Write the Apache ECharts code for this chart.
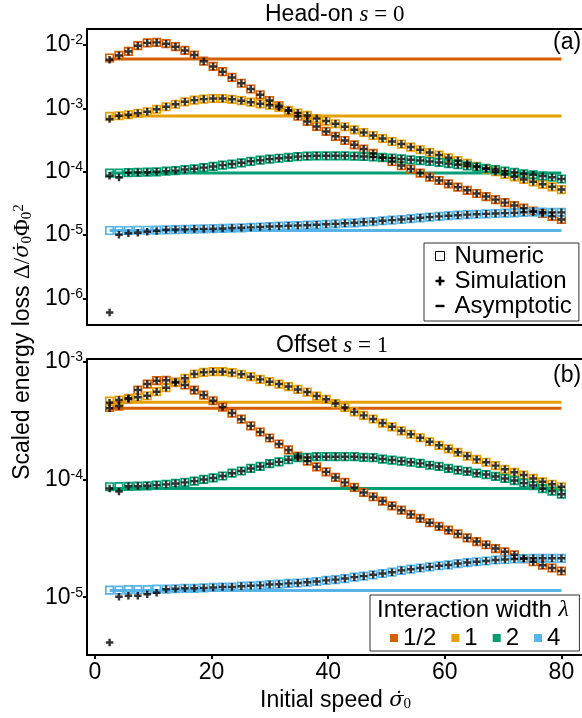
<!DOCTYPE html>
<html><head><meta charset="utf-8">
<script src="https://cdn.jsdelivr.net/npm/echarts@6/dist/echarts.min.js"></script>
<style>html,body{margin:0;padding:0;background:#fff}#c{width:582px;height:718px}</style>
</head><body><div id="c"></div>
<script>
// ---------------- data ----------------
const speeds = [2.5, 4.11, 5.73, 7.34, 8.96, 10.57, 12.19, 13.80, 15.42, 17.03, 18.65, 20.26, 21.88, 23.49, 25.10, 26.72, 28.33, 29.95, 31.56, 33.18, 34.79, 36.41, 38.02, 39.64, 41.25, 42.86, 44.48, 46.09, 47.71, 49.32, 50.94, 52.55, 54.17, 55.78, 57.40, 59.01, 60.63, 62.24, 63.85, 65.47, 67.08, 68.70, 70.31, 71.93, 73.54, 75.16, 76.77, 78.39, 80.0];
const lambdaLabels = ['1/2', '1', '2', '4'];
const lambdaColors = ['#D55E00', '#E69F00', '#009E73', '#56B4E9'];
const xTicks = [0, 20, 40, 60, 80];
const yTicksA = [1e-6, 1e-5, 1e-4, 1e-3, 1e-2];
const yTicksB = [1e-5, 1e-4, 1e-3];

// Panel (a) head-on, numeric
const numA_half = [6.24e-3, 6.85e-3, 7.92e-3, 9.75e-3, 1.08e-2, 1.10e-2, 1.05e-2, 9.40e-3, 8.22e-3, 6.95e-3,
  5.55e-3, 4.59e-3, 3.79e-3, 3.08e-3, 2.49e-3, 2.02e-3, 1.64e-3, 1.33e-3, 1.10e-3, 9.17e-4,
  7.50e-4, 6.21e-4, 5.18e-4, 4.32e-4, 3.62e-4, 3.11e-4, 2.66e-4, 2.28e-4, 1.94e-4, 1.66e-4,
  1.45e-4, 1.25e-4, 1.10e-4, 9.51e-5, 8.22e-5, 7.26e-5, 6.44e-5, 5.71e-5, 5.08e-5, 4.53e-5,
  4.05e-5, 3.62e-5, 3.25e-5, 2.92e-5, 2.66e-5, 2.39e-5, 2.20e-5, 1.97e-5, 1.76e-5];
const numA_one = [7.45e-4, 7.64e-4, 7.92e-4, 8.37e-4, 8.84e-4, 9.68e-4, 1.06e-3, 1.16e-3, 1.27e-3, 1.35e-3,
  1.40e-3, 1.43e-3, 1.43e-3, 1.39e-3, 1.32e-3, 1.25e-3, 1.18e-3, 1.12e-3, 1.04e-3, 9.33e-4,
  8.43e-4, 7.73e-4, 6.92e-4, 6.30e-4, 5.71e-4, 5.12e-4, 4.59e-4, 4.16e-4, 3.73e-4, 3.34e-4,
  3.00e-4, 2.73e-4, 2.45e-4, 2.22e-4, 2.01e-4, 1.83e-4, 1.66e-4, 1.50e-4, 1.35e-4, 1.22e-4,
  1.10e-4, 1.00e-4, 9.10e-5, 8.30e-5, 7.55e-5, 6.92e-5, 6.32e-5, 5.77e-5, 5.23e-5];
const numA_two = [9.51e-5, 9.51e-5, 9.68e-5, 9.75e-5, 9.82e-5, 9.96e-5, 1.02e-4, 1.04e-4, 1.08e-4, 1.11e-4,
  1.16e-4, 1.21e-4, 1.27e-4, 1.32e-4, 1.38e-4, 1.46e-4, 1.52e-4, 1.58e-4, 1.63e-4, 1.68e-4,
  1.73e-4, 1.76e-4, 1.78e-4, 1.78e-4, 1.78e-4, 1.78e-4, 1.76e-4, 1.74e-4, 1.71e-4, 1.68e-4,
  1.64e-4, 1.59e-4, 1.54e-4, 1.50e-4, 1.45e-4, 1.40e-4, 1.34e-4, 1.29e-4, 1.24e-4, 1.18e-4,
  1.13e-4, 1.08e-4, 1.02e-4, 9.75e-5, 9.29e-5, 8.93e-5, 8.55e-5, 8.18e-5, 7.67e-5];
const numA_four = [1.18e-5, 1.18e-5, 1.18e-5, 1.19e-5, 1.19e-5, 1.20e-5, 1.21e-5, 1.22e-5, 1.23e-5, 1.24e-5,
  1.25e-5, 1.26e-5, 1.27e-5, 1.29e-5, 1.30e-5, 1.32e-5, 1.34e-5, 1.36e-5, 1.38e-5, 1.40e-5,
  1.41e-5, 1.43e-5, 1.45e-5, 1.48e-5, 1.50e-5, 1.54e-5, 1.56e-5, 1.60e-5, 1.63e-5, 1.68e-5,
  1.72e-5, 1.76e-5, 1.81e-5, 1.87e-5, 1.92e-5, 1.97e-5, 2.02e-5, 2.06e-5, 2.10e-5, 2.13e-5,
  2.16e-5, 2.19e-5, 2.22e-5, 2.24e-5, 2.28e-5, 2.30e-5, 2.30e-5, 2.28e-5, 2.28e-5];
// Panel (a) simulation: first points that differ from numeric
const simA_half_start = [5.86e-3];
const simA_one_start = [6.78e-4];
const simA_two_start = [8.61e-5, 8.09e-5];
const simA_four_start = [5.97e-7, 1.01e-5, 1.07e-5, 1.09e-5, 1.13e-5, 1.16e-5];
const asymA = [6.01e-3, 7.55e-4, 9.5e-5, 1.18e-5];

// Panel (b) offset, numeric
const numB_half = [4.09e-4, 4.20e-4, 4.82e-4, 5.74e-4, 6.46e-4, 6.90e-4, 6.95e-4, 6.72e-4, 6.34e-4, 5.74e-4,
  5.21e-4, 4.66e-4, 4.12e-4, 3.66e-4, 3.25e-4, 2.85e-4, 2.53e-4, 2.25e-4, 2.00e-4, 1.78e-4,
  1.58e-4, 1.43e-4, 1.28e-4, 1.16e-4, 1.04e-4, 9.44e-5, 8.55e-5, 7.76e-5, 7.13e-5, 6.55e-5,
  5.97e-5, 5.48e-5, 5.05e-5, 4.67e-5, 4.29e-5, 3.99e-5, 3.71e-5, 3.45e-5, 3.19e-5, 2.97e-5,
  2.79e-5, 2.59e-5, 2.43e-5, 2.29e-5, 2.13e-5, 2.00e-5, 1.87e-5, 1.77e-5, 1.67e-5];
const numB_one = [4.63e-4, 4.72e-4, 4.89e-4, 4.98e-4, 5.14e-4, 5.56e-4, 6.01e-4, 6.64e-4, 7.23e-4, 7.86e-4,
  8.13e-4, 8.22e-4, 8.22e-4, 8.07e-4, 7.82e-4, 7.46e-4, 7.08e-4, 6.76e-4, 6.46e-4, 6.15e-4,
  5.81e-4, 5.52e-4, 5.11e-4, 4.79e-4, 4.41e-4, 4.09e-4, 3.75e-4, 3.50e-4, 3.26e-4, 3.01e-4,
  2.80e-4, 2.59e-4, 2.42e-4, 2.26e-4, 2.09e-4, 1.95e-4, 1.82e-4, 1.70e-4, 1.58e-4, 1.48e-4,
  1.40e-4, 1.31e-4, 1.22e-4, 1.15e-4, 1.09e-4, 1.02e-4, 9.55e-5, 9.10e-5, 8.67e-5];
const numB_two = [8.67e-5, 8.70e-5, 8.74e-5, 8.78e-5, 8.83e-5, 8.95e-5, 9.08e-5, 9.25e-5, 9.44e-5, 9.68e-5,
  1.00e-4, 1.03e-4, 1.07e-4, 1.13e-4, 1.18e-4, 1.24e-4, 1.29e-4, 1.36e-4, 1.41e-4, 1.47e-4,
  1.53e-4, 1.54e-4, 1.56e-4, 1.56e-4, 1.56e-4, 1.56e-4, 1.56e-4, 1.54e-4, 1.53e-4, 1.49e-4,
  1.46e-4, 1.43e-4, 1.40e-4, 1.37e-4, 1.32e-4, 1.29e-4, 1.24e-4, 1.20e-4, 1.17e-4, 1.13e-4,
  1.10e-4, 1.06e-4, 1.02e-4, 9.78e-5, 9.31e-5, 8.87e-5, 8.36e-5, 7.96e-5, 7.50e-5];
const numB_four = [1.15e-5, 1.15e-5, 1.16e-5, 1.16e-5, 1.16e-5, 1.17e-5, 1.17e-5, 1.18e-5, 1.19e-5, 1.19e-5,
  1.20e-5, 1.21e-5, 1.22e-5, 1.22e-5, 1.24e-5, 1.25e-5, 1.26e-5, 1.28e-5, 1.29e-5, 1.31e-5,
  1.32e-5, 1.34e-5, 1.36e-5, 1.39e-5, 1.41e-5, 1.44e-5, 1.48e-5, 1.51e-5, 1.55e-5, 1.59e-5,
  1.63e-5, 1.69e-5, 1.73e-5, 1.77e-5, 1.81e-5, 1.85e-5, 1.88e-5, 1.93e-5, 1.97e-5, 2.00e-5,
  2.03e-5, 2.07e-5, 2.09e-5, 2.11e-5, 2.13e-5, 2.14e-5, 2.14e-5, 2.14e-5, 2.14e-5];
const simB_half_start = [4.02e-4];
const simB_one_start = [4.49e-4];
const simB_two_start = [8.39e-5, 7.90e-5];
const simB_four_start = [4.12e-6, 1.01e-5, 1.03e-5, 1.03e-5, 1.06e-5, 1.09e-5];
const asymB = [4.02e-4, 4.52e-4, 8.39e-5, 1.14e-5];

// ---------------- chart ----------------
const SANS = '"Liberation Sans", Arial, Helvetica, sans-serif';
const SERIF = '"Liberation Serif", "DejaVu Serif", serif';
const DSERIF = '"DejaVu Serif", serif';
const PLUS = 'path://M2.7,0H5.3V2.7H8V5.3H5.3V8H2.7V5.3H0V2.7H2.7Z';
const PLUS_LEG = 'path://M3.2,0H5.8V3.2H9V5.8H5.8V9H3.2V5.8H0V3.2H3.2Z';
const DASH = 'path://M0,0M9,9M0,3.3H9V5.7H0Z';

function withStart(start, num) { return start.concat(num.slice(start.length)); }
const panels = [
  { num: [numA_half, numA_one, numA_two, numA_four],
    sim: [withStart(simA_half_start, numA_half), withStart(simA_one_start, numA_one), withStart(simA_two_start, numA_two), withStart(simA_four_start, numA_four)],
    asym: asymA },
  { num: [numB_half, numB_one, numB_two, numB_four],
    sim: [withStart(simB_half_start, numB_half), withStart(simB_one_start, numB_one), withStart(simB_two_start, numB_two), withStart(simB_four_start, numB_four)],
    asym: asymB }
];

const series = [];
panels.forEach((p, pi) => {
  lambdaLabels.forEach((lab, k) => {
    series.push({
      name: lab, type: 'scatter', xAxisIndex: pi, yAxisIndex: pi, silent: true, z: 3,
      symbol: 'rect', symbolSize: 7.5,
      itemStyle: { color: 'rgba(255,255,255,0)', borderColor: lambdaColors[k], borderWidth: 1.7, opacity: 1 },
      emphasis: { disabled: true },
      data: speeds.map((x, i) => [x, p.num[k][i]])
    });
  });
});
panels.forEach((p, pi) => {
  lambdaLabels.forEach((lab, k) => {
    series.push({
      name: 'asym ' + lab, type: 'line', xAxisIndex: pi, yAxisIndex: pi, silent: true, z: 2,
      symbol: 'none', lineStyle: { color: lambdaColors[k], width: 3 },
      emphasis: { disabled: true },
      data: [[speeds[0], p.asym[k]], [speeds[speeds.length - 1], p.asym[k]]]
    });
  });
});
panels.forEach((p, pi) => {
  lambdaLabels.forEach((lab, k) => {
    series.push({
      name: lab, type: 'scatter', xAxisIndex: pi, yAxisIndex: pi, silent: true, z: 4,
      symbol: PLUS, symbolSize: 7.5,
      itemStyle: { color: '#000' },
      emphasis: { disabled: true },
      data: speeds.map((x, i) => [x, p.sim[k][i]])
    });
  });
});
// legend-only series
series.push({ name: 'Numeric', type: 'scatter', xAxisIndex: 0, yAxisIndex: 0, data: [], symbol: 'rect' });
series.push({ name: 'Simulation', type: 'scatter', xAxisIndex: 0, yAxisIndex: 0, data: [], symbol: PLUS_LEG });
series.push({ name: 'Asymptotic', type: 'scatter', xAxisIndex: 0, yAxisIndex: 0, data: [], symbol: DASH });

const axisLineStyle = { color: '#000', width: 2 };
const xBase = { type: 'value', min: -1.375, max: 83.875, splitLine: { show: false },
  axisLine: { show: true, onZero: false, lineStyle: axisLineStyle } };
const mathRich = {
  a: { fontFamily: SANS, fontSize: 23, fontWeight: 'normal', color: '#000' },
  m: { fontFamily: SERIF, fontSize: 23, fontWeight: 'normal', color: '#000' },
  i: { fontFamily: SERIF, fontStyle: 'italic', fontSize: 23, fontWeight: 'normal', color: '#000' },
  sg: { fontFamily: DSERIF, fontStyle: 'italic', fontSize: 21, fontWeight: 'normal', color: '#000' },
  sb: { fontFamily: SERIF, fontSize: 15, fontWeight: 'normal', color: '#000', verticalAlign: 'bottom' },
  sp: { fontFamily: SERIF, fontSize: 15, fontWeight: 'normal', color: '#000', verticalAlign: 'top' }
};
function fmtExp(v) { const e = Math.round(Math.log10(v)); return '{b|10}{s|' + e + '}'; }
const yLabelRich = {
  b: { fontFamily: SANS, fontSize: 23, color: '#000' },
  s: { fontFamily: SANS, fontSize: 14, color: '#000', verticalAlign: 'top' }
};
function yAxisFor(grid, min, max, ticks) {
  return {
    type: 'log', logBase: 10, gridIndex: grid, min: min, max: max,
    splitLine: { show: false }, minorTick: { show: false },
    axisLine: { show: true, onZero: false, lineStyle: axisLineStyle },
    axisTick: { show: true, customValues: ticks, length: 4, lineStyle: axisLineStyle },
    axisLabel: { show: true, customValues: ticks, formatter: fmtExp, margin: 4, rich: yLabelRich }
  };
}
const plainTitle = { fontFamily: SANS, fontSize: 23, fontWeight: 'normal', color: '#000' };

const option = {
  animation: false,
  backgroundColor: '#fff',
  grid: [
    { left: 87, top: 29, width: 497, height: 296, outerBoundsMode: 'none' },
    { left: 87, top: 359, width: 497, height: 296, outerBoundsMode: 'none' }
  ],
  xAxis: [
    Object.assign({}, xBase, { gridIndex: 0, position: 'bottom', axisTick: { show: false }, axisLabel: { show: false } }),
    Object.assign({}, xBase, { gridIndex: 1, position: 'bottom',
      axisTick: { show: true, customValues: xTicks, length: 4, lineStyle: axisLineStyle },
      axisLabel: { show: true, customValues: xTicks, margin: 6, fontFamily: SANS, fontSize: 23, color: '#000' },
      name: '{a|Initial speed }{sg|\u03C3\u0307}{sb|0}', nameLocation: 'middle', nameGap: 34,
      nameTextStyle: { fontWeight: 'normal', rich: mathRich } }),
    Object.assign({}, xBase, { gridIndex: 0, position: 'top', axisTick: { show: false }, axisLabel: { show: false } }),
    Object.assign({}, xBase, { gridIndex: 1, position: 'top', axisTick: { show: false }, axisLabel: { show: false } })
  ],
  yAxis: [
    yAxisFor(0, 3.80e-7, 1.79e-2, yTicksA),
    yAxisFor(1, 3.23e-6, 1.054e-3, yTicksB)
  ],
  title: [
    { text: '{a|Head-on }{i|s}{m| = 0}', left: 265, top: 3, padding: 0, textStyle: Object.assign({}, plainTitle, { rich: mathRich }) },
    { text: '{a|Offset }{i|s}{m| = 1}', left: 276, top: 334, padding: 0, textStyle: Object.assign({}, plainTitle, { rich: mathRich }) },
    { text: '(a)', left: 553, top: 31, padding: 0, textStyle: plainTitle },
    { text: '(b)', left: 553, top: 364, padding: 0, textStyle: plainTitle },
    { text: '{a|Interaction width }{i|\u03BB}', left: 377, top: 598, padding: 0, z: 10,
      textStyle: Object.assign({}, plainTitle, { rich: {
        a: { fontFamily: SANS, fontSize: 24, fontWeight: 'normal', color: '#000' },
        i: { fontFamily: SERIF, fontStyle: 'italic', fontSize: 24, fontWeight: 'normal', color: '#000' } } }) }
  ],
  legend: [
    { orient: 'vertical', left: 424, top: 243, padding: [1, 7, 3, 11], itemWidth: 9, itemHeight: 9, itemGap: 1,
      borderColor: '#333', borderWidth: 1, backgroundColor: '#fff', selectedMode: false,
      textStyle: { fontFamily: SANS, fontSize: 24, color: '#000', padding: [0, 0, 0, 5] },
      data: [
        { name: 'Numeric', icon: 'rect', itemStyle: { color: 'rgba(0,0,0,0)', borderColor: '#000', borderWidth: 1, opacity: 1 } },
        { name: 'Simulation', icon: PLUS_LEG, itemStyle: { color: '#000', borderWidth: 0, opacity: 1 } },
        { name: 'Asymptotic', icon: DASH, itemStyle: { color: '#000', borderWidth: 0, opacity: 1 } }
      ] },
    { orient: 'horizontal', left: 370, top: 595, padding: [31, 19, 1, 20], itemWidth: 8, itemHeight: 8, itemGap: 15,
      borderColor: '#333', borderWidth: 1, backgroundColor: '#fff', selectedMode: false,
      textStyle: { fontFamily: SANS, fontSize: 24, color: '#000' },
      data: lambdaLabels.map((l, k) => ({ name: l, icon: 'rect', itemStyle: { color: lambdaColors[k], borderWidth: 0, opacity: 1 } })) }
  ],
  graphic: [
    { type: 'text', x: 23, y: 342, rotation: Math.PI / 2, silent: true,
      style: { text: '{a|Scaled energy loss }{m|\u0394/}{sg|\u03C3\u0307}{sb|0}{m|\u03A6}{sb|0}{sp|2}', rich: mathRich,
        align: 'center', verticalAlign: 'middle', textAlign: 'center', textVerticalAlign: 'middle' } }
  ],
  series: series
};

const chart = echarts.init(document.getElementById('c'), null, { renderer: 'canvas' });
chart.setOption(option);
</script>
</body></html>
